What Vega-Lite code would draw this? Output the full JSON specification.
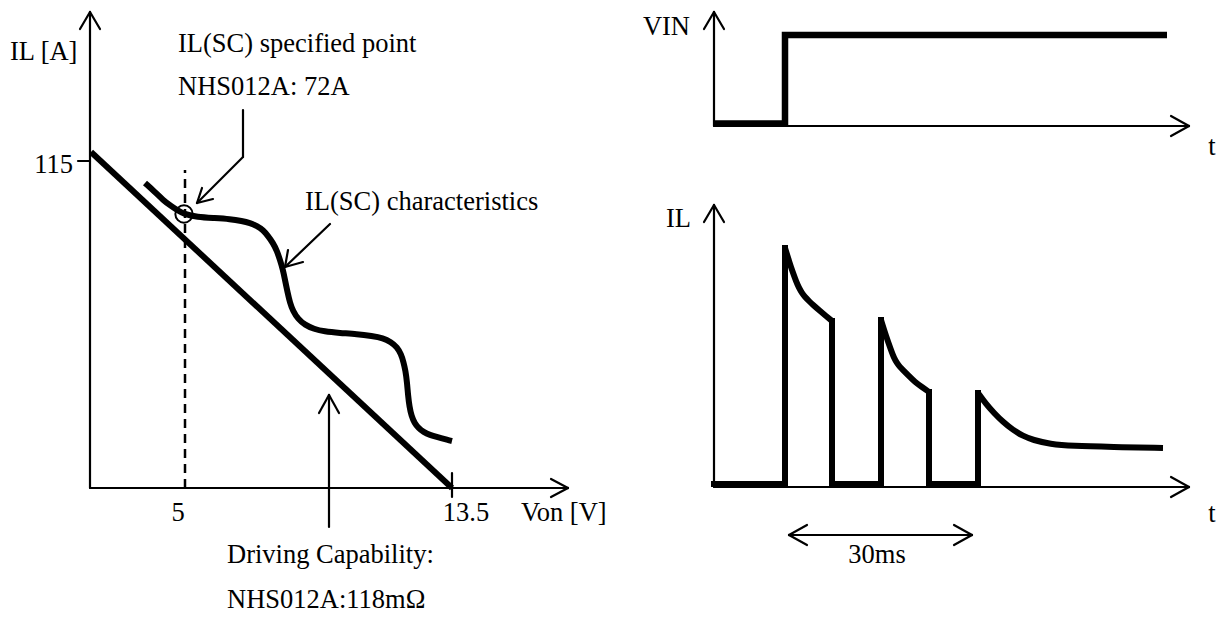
{
  "$schema": "https://vega.github.io/schema/vega-lite/v6.json",
  "padding": 0,
  "bounds": "flush",
  "spacing": 0,
  "background": "white",
  "config": {"view": {"stroke": null}},
  "datasets": {
    "leftThin": [
      {"x": 0, "y": 0, "x2": 0, "y2": 95.2},
      {"x": 0, "y": 95.2, "x2": -2, "y2": 91.8},
      {"x": 0, "y": 95.2, "x2": 2, "y2": 91.8},
      {"x": 0, "y": 0, "x2": 95.6, "y2": 0},
      {"x": 95.6, "y": 0, "x2": 92.2, "y2": 1.8},
      {"x": 95.6, "y": 0, "x2": 92.2, "y2": -1.8},
      {"x": -2.4, "y": 65.4, "x2": 0, "y2": 65.4},
      {"x": 72.4, "y": 3, "x2": 72.4, "y2": -1.8},
      {"x": 30.6, "y": 75.6, "x2": 30.6, "y2": 66.2},
      {"x": 30.6, "y": 66.2, "x2": 21.4, "y2": 57},
      {"x": 21.4, "y": 57, "x2": 24.6, "y2": 57.8},
      {"x": 21.4, "y": 57, "x2": 22.4, "y2": 60},
      {"x": 48, "y": 52.8, "x2": 39, "y2": 44.2},
      {"x": 39, "y": 44.2, "x2": 42.6, "y2": 45.2},
      {"x": 39, "y": 44.2, "x2": 39.6, "y2": 47.6},
      {"x": 47.8, "y": -7.8, "x2": 47.8, "y2": 18.6},
      {"x": 47.8, "y": 18.6, "x2": 45.8, "y2": 15},
      {"x": 47.8, "y": 18.6, "x2": 49.8, "y2": 15}
    ],
    "leftDashed": [{"x": 19, "y": 0, "x2": 19, "y2": 63.6}],
    "leftDiag": [{"x": 0.2, "y": 67.2, "x2": 72.4, "y2": 0}],
    "leftCurve": [
      {"i": 0, "x": 11, "y": 61}, {"i": 1, "x": 13, "y": 59.2}, {"i": 2, "x": 14.6, "y": 57.6},
      {"i": 3, "x": 16.2, "y": 56.4}, {"i": 4, "x": 17.4, "y": 55.6}, {"i": 5, "x": 18.8, "y": 54.8},
      {"i": 6, "x": 21.4, "y": 54.2}, {"i": 7, "x": 25, "y": 54}, {"i": 8, "x": 28, "y": 53.8},
      {"i": 9, "x": 30.4, "y": 53.4}, {"i": 10, "x": 32, "y": 53}, {"i": 11, "x": 33.4, "y": 52.4},
      {"i": 12, "x": 34.6, "y": 51.6}, {"i": 13, "x": 35.6, "y": 50.4}, {"i": 14, "x": 36.6, "y": 49},
      {"i": 15, "x": 37.4, "y": 47.4}, {"i": 16, "x": 38, "y": 45.6}, {"i": 17, "x": 38.6, "y": 43.6},
      {"i": 18, "x": 39, "y": 41.6}, {"i": 19, "x": 39.5, "y": 39.2}, {"i": 20, "x": 40, "y": 37},
      {"i": 21, "x": 40.6, "y": 35.4}, {"i": 22, "x": 41.6, "y": 33.8}, {"i": 23, "x": 43, "y": 32.6},
      {"i": 24, "x": 44.8, "y": 31.8}, {"i": 25, "x": 46.8, "y": 31.3}, {"i": 26, "x": 50, "y": 31},
      {"i": 27, "x": 53.4, "y": 30.8}, {"i": 28, "x": 56.4, "y": 30.4}, {"i": 29, "x": 58.6, "y": 30},
      {"i": 30, "x": 60.2, "y": 29.2}, {"i": 31, "x": 61.4, "y": 28.2}, {"i": 32, "x": 62.2, "y": 26.8},
      {"i": 33, "x": 62.7, "y": 25.2}, {"i": 34, "x": 63.1, "y": 23.4}, {"i": 35, "x": 63.4, "y": 21.2},
      {"i": 36, "x": 63.6, "y": 18.6}, {"i": 37, "x": 63.9, "y": 16.2}, {"i": 38, "x": 64.3, "y": 14.4},
      {"i": 39, "x": 64.9, "y": 13}, {"i": 40, "x": 65.7, "y": 12}, {"i": 41, "x": 66.7, "y": 11.2},
      {"i": 42, "x": 68, "y": 10.6}, {"i": 43, "x": 69.4, "y": 10.2}, {"i": 44, "x": 71.6, "y": 9.6},
      {"i": 45, "x": 72.4, "y": 9.4}
    ],
    "leftPoint": [{"x": 18.8, "y": 54.8}],
    "leftTextL": [
      {"x": -16, "y": 85.6, "text": "IL [A]"},
      {"x": 17.6, "y": 87.2, "text": "IL(SC) specified point"},
      {"x": 17.6, "y": 78.6, "text": "NHS012A: 72A"},
      {"x": 43, "y": 55.6, "text": "IL(SC) characteristics"},
      {"x": 86.2, "y": -6.6, "text": "Von [V]"},
      {"x": 27.4, "y": -15, "text": "Driving Capability:"},
      {"x": 27.4, "y": -24, "text": "NHS012A:118mΩ"}
    ],
    "leftTextR": [{"x": -3.4, "y": 63, "text": "115"}],
    "leftTextC": [
      {"x": 17.6, "y": -6.6, "text": "5"},
      {"x": 75.2, "y": -6.6, "text": "13.5"}
    ],
    "topThin": [
      {"x": 0, "y": 0, "x2": 0, "y2": 22.8},
      {"x": 0, "y": 22.8, "x2": -2, "y2": 19.4},
      {"x": 0, "y": 22.8, "x2": 2, "y2": 19.4},
      {"x": 0, "y": 0, "x2": 95, "y2": 0},
      {"x": 95, "y": 0, "x2": 91.4, "y2": 2},
      {"x": 95, "y": 0, "x2": 91.4, "y2": -2}
    ],
    "vin": [
      {"i": 0, "x": 0, "y": 0.5}, {"i": 1, "x": 14.2, "y": 0.5},
      {"i": 2, "x": 14.2, "y": 18.2}, {"i": 3, "x": 90.6, "y": 18.2}
    ],
    "topTextR": [{"x": -4.8, "y": 18.2, "text": "VIN"}],
    "topTextC": [{"x": 99.6, "y": -5.8, "text": "t"}],
    "botThin": [
      {"x": 0, "y": 0, "x2": 0, "y2": 56.4},
      {"x": 0, "y": 56.4, "x2": -2, "y2": 53},
      {"x": 0, "y": 56.4, "x2": 2, "y2": 53},
      {"x": 0, "y": 0, "x2": 95, "y2": 0},
      {"x": 95, "y": 0, "x2": 91.4, "y2": 2},
      {"x": 95, "y": 0, "x2": 91.4, "y2": -2},
      {"x": 15, "y": -9.6, "x2": 51.6, "y2": -9.6},
      {"x": 15, "y": -9.6, "x2": 18.6, "y2": -7.6},
      {"x": 15, "y": -9.6, "x2": 18.6, "y2": -11.6},
      {"x": 51.6, "y": -9.6, "x2": 48, "y2": -7.6},
      {"x": 51.6, "y": -9.6, "x2": 48, "y2": -11.6}
    ],
    "ilSquare": [
      {"seg": "a", "i": 0, "x": 0, "y": 0.6}, {"seg": "a", "i": 1, "x": 14.2, "y": 0.6}, {"seg": "a", "i": 2, "x": 14.2, "y": 47.8},
      {"seg": "b", "i": 0, "x": 23.6, "y": 33.2}, {"seg": "b", "i": 1, "x": 23.6, "y": 0.6}, {"seg": "b", "i": 2, "x": 33.4, "y": 0.6}, {"seg": "b", "i": 3, "x": 33.4, "y": 33.4},
      {"seg": "c", "i": 0, "x": 43, "y": 19}, {"seg": "c", "i": 1, "x": 43, "y": 0.6}, {"seg": "c", "i": 2, "x": 52.8, "y": 0.6}, {"seg": "c", "i": 3, "x": 52.8, "y": 18.8}
    ],
    "ilDecay": [
      {"seg": "d1", "i": 0, "x": 14.2, "y": 47.8}, {"seg": "d1", "i": 1, "x": 15, "y": 45.2}, {"seg": "d1", "i": 2, "x": 15.8, "y": 42.8},
      {"seg": "d1", "i": 3, "x": 16.4, "y": 41.2}, {"seg": "d1", "i": 4, "x": 17, "y": 39.8}, {"seg": "d1", "i": 5, "x": 17.6, "y": 38.8},
      {"seg": "d1", "i": 6, "x": 18.2, "y": 38}, {"seg": "d1", "i": 7, "x": 19, "y": 37.2}, {"seg": "d1", "i": 8, "x": 19.8, "y": 36.4},
      {"seg": "d1", "i": 9, "x": 21.2, "y": 35.2}, {"seg": "d1", "i": 10, "x": 22.4, "y": 34.2}, {"seg": "d1", "i": 11, "x": 23.6, "y": 33.2},
      {"seg": "d2", "i": 0, "x": 33.4, "y": 33.4}, {"seg": "d2", "i": 1, "x": 34.4, "y": 30.2}, {"seg": "d2", "i": 2, "x": 35.4, "y": 27.4},
      {"seg": "d2", "i": 3, "x": 36, "y": 25.8}, {"seg": "d2", "i": 4, "x": 36.6, "y": 24.8}, {"seg": "d2", "i": 5, "x": 37.2, "y": 24},
      {"seg": "d2", "i": 6, "x": 37.8, "y": 23.4}, {"seg": "d2", "i": 7, "x": 38.8, "y": 22.4}, {"seg": "d2", "i": 8, "x": 40.2, "y": 21},
      {"seg": "d2", "i": 9, "x": 41.6, "y": 20}, {"seg": "d2", "i": 10, "x": 43, "y": 19},
      {"seg": "d3", "i": 0, "x": 52.8, "y": 18.8}, {"seg": "d3", "i": 1, "x": 54.4, "y": 16.6}, {"seg": "d3", "i": 2, "x": 56, "y": 14.8},
      {"seg": "d3", "i": 3, "x": 57.8, "y": 13}, {"seg": "d3", "i": 4, "x": 59.8, "y": 11.4}, {"seg": "d3", "i": 5, "x": 61.8, "y": 10.2},
      {"seg": "d3", "i": 6, "x": 63.8, "y": 9.4}, {"seg": "d3", "i": 7, "x": 67.2, "y": 8.6}, {"seg": "d3", "i": 8, "x": 71.6, "y": 8.2},
      {"seg": "d3", "i": 9, "x": 79.6, "y": 8}, {"seg": "d3", "i": 10, "x": 89.8, "y": 7.8}
    ],
    "botTextR": [{"x": -4.6, "y": 52, "text": "IL"}],
    "botTextC": [
      {"x": 99.6, "y": -7, "text": "t"},
      {"x": 32.6, "y": -15.2, "text": "30ms"}
    ]
  },
  "hconcat": [
    {
      "width": 600,
      "height": 617,
      "encoding": {
        "x": {"field": "x", "type": "quantitative", "scale": {"domain": [-18, 102], "nice": false, "zero": false}, "axis": null},
        "y": {"field": "y", "type": "quantitative", "scale": {"domain": [-25.8, 97.6], "nice": false, "zero": false}, "axis": null}
      },
      "layer": [
        {"data": {"name": "leftThin"}, "mark": {"type": "rule", "strokeWidth": 2.2, "color": "black", "strokeCap": "round"},
         "encoding": {"x2": {"field": "x2"}, "y2": {"field": "y2"}}},
        {"data": {"name": "leftDashed"}, "mark": {"type": "rule", "strokeWidth": 2.5, "color": "black", "strokeDash": [9, 6]},
         "encoding": {"x2": {"field": "x2"}, "y2": {"field": "y2"}}},
        {"data": {"name": "leftDiag"}, "mark": {"type": "rule", "strokeWidth": 6, "color": "black"},
         "encoding": {"x2": {"field": "x2"}, "y2": {"field": "y2"}}},
        {"data": {"name": "leftCurve"}, "mark": {"type": "line", "interpolate": "basis", "strokeWidth": 6, "color": "black"},
         "encoding": {"order": {"field": "i", "type": "quantitative"}}},
        {"data": {"name": "leftPoint"}, "mark": {"type": "point", "shape": "circle", "size": 300, "filled": false, "strokeWidth": 2, "color": "black", "opacity": 1}},
        {"data": {"name": "leftTextL"}, "mark": {"type": "text", "align": "left", "baseline": "alphabetic", "font": "Liberation Serif", "fontSize": 26.5, "color": "black"},
         "encoding": {"text": {"field": "text"}}},
        {"data": {"name": "leftTextR"}, "mark": {"type": "text", "align": "right", "baseline": "alphabetic", "font": "Liberation Serif", "fontSize": 26.5, "color": "black"},
         "encoding": {"text": {"field": "text"}}},
        {"data": {"name": "leftTextC"}, "mark": {"type": "text", "align": "center", "baseline": "alphabetic", "font": "Liberation Serif", "fontSize": 26.5, "color": "black"},
         "encoding": {"text": {"field": "text"}}}
      ]
    },
    {
      "spacing": 0,
      "vconcat": [
        {
          "width": 618,
          "height": 165,
          "encoding": {
            "x": {"field": "x", "type": "quantitative", "scale": {"domain": [-22.8, 100.8], "nice": false, "zero": false}, "axis": null},
            "y": {"field": "y", "type": "quantitative", "scale": {"domain": [-7.8, 25.2], "nice": false, "zero": false}, "axis": null}
          },
          "layer": [
            {"data": {"name": "topThin"}, "mark": {"type": "rule", "strokeWidth": 2.2, "color": "black", "strokeCap": "round"},
             "encoding": {"x2": {"field": "x2"}, "y2": {"field": "y2"}}},
            {"data": {"name": "vin"}, "mark": {"type": "line", "strokeWidth": 6.5, "color": "black", "strokeJoin": "miter"},
             "encoding": {"order": {"field": "i", "type": "quantitative"}}},
            {"data": {"name": "topTextR"}, "mark": {"type": "text", "align": "right", "baseline": "alphabetic", "font": "Liberation Serif", "fontSize": 26.5, "color": "black"},
             "encoding": {"text": {"field": "text"}}},
            {"data": {"name": "topTextC"}, "mark": {"type": "text", "align": "center", "baseline": "alphabetic", "font": "Liberation Serif", "fontSize": 26.5, "color": "black"},
             "encoding": {"text": {"field": "text"}}}
          ]
        },
        {
          "width": 618,
          "height": 452,
          "encoding": {
            "x": {"field": "x", "type": "quantitative", "scale": {"domain": [-22.8, 100.8], "nice": false, "zero": false}, "axis": null},
            "y": {"field": "y", "type": "quantitative", "scale": {"domain": [-26, 64.4], "nice": false, "zero": false}, "axis": null}
          },
          "layer": [
            {"data": {"name": "botThin"}, "mark": {"type": "rule", "strokeWidth": 2.2, "color": "black", "strokeCap": "round"},
             "encoding": {"x2": {"field": "x2"}, "y2": {"field": "y2"}}},
            {"data": {"name": "ilSquare"}, "mark": {"type": "line", "strokeWidth": 6, "color": "black", "strokeJoin": "miter", "strokeCap": "square"},
             "encoding": {"detail": {"field": "seg"}, "order": {"field": "i", "type": "quantitative"}}},
            {"data": {"name": "ilDecay"}, "mark": {"type": "line", "interpolate": "basis", "strokeWidth": 6, "color": "black"},
             "encoding": {"detail": {"field": "seg"}, "order": {"field": "i", "type": "quantitative"}}},
            {"data": {"name": "botTextR"}, "mark": {"type": "text", "align": "right", "baseline": "alphabetic", "font": "Liberation Serif", "fontSize": 26.5, "color": "black"},
             "encoding": {"text": {"field": "text"}}},
            {"data": {"name": "botTextC"}, "mark": {"type": "text", "align": "center", "baseline": "alphabetic", "font": "Liberation Serif", "fontSize": 26.5, "color": "black"},
             "encoding": {"text": {"field": "text"}}}
          ]
        }
      ]
    }
  ]
}
